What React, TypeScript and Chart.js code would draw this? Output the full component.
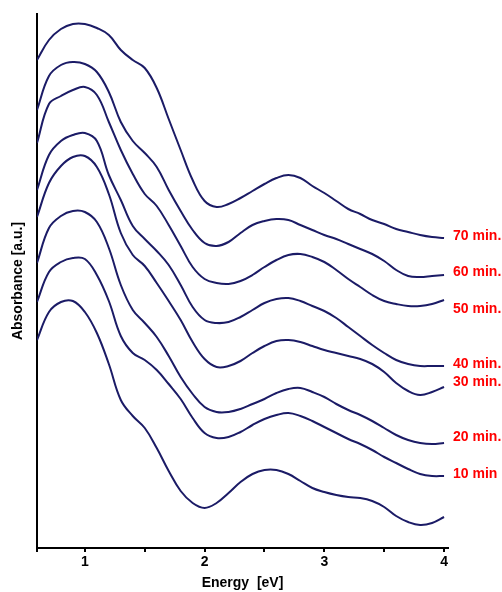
import React, { useEffect, useRef } from 'react';
import { Chart, registerables } from 'chart.js';

Chart.register(...registerables);

// Photon energy (eV)
const energy = [0.6, 0.7, 0.8, 0.9, 1.0, 1.1, 1.2, 1.3, 1.4, 1.5, 1.6, 1.7, 1.8, 1.9, 2.0, 2.1, 2.2, 2.3, 2.4, 2.5, 2.6, 2.7, 2.8, 2.9, 3.0, 3.1, 3.2, 3.3, 3.4, 3.5, 3.6, 3.7, 3.8, 3.9, 4.0];

// Absorbance (arbitrary units, curves offset vertically)
const abs70 = [4.88, 5.08, 5.19, 5.24, 5.24, 5.20, 5.13, 4.98, 4.88, 4.80, 4.60, 4.29, 3.98, 3.68, 3.47, 3.41, 3.44, 3.50, 3.57, 3.64, 3.70, 3.73, 3.70, 3.62, 3.55, 3.47, 3.39, 3.34, 3.28, 3.24, 3.19, 3.16, 3.13, 3.11, 3.10];
const abs60 = [4.38, 4.72, 4.83, 4.86, 4.84, 4.76, 4.56, 4.26, 4.07, 3.95, 3.81, 3.58, 3.37, 3.18, 3.05, 3.02, 3.06, 3.15, 3.23, 3.27, 3.29, 3.28, 3.23, 3.18, 3.13, 3.09, 3.04, 2.99, 2.94, 2.87, 2.78, 2.72, 2.71, 2.72, 2.73];
const abs50 = [4.05, 4.44, 4.52, 4.58, 4.61, 4.53, 4.26, 3.98, 3.74, 3.54, 3.42, 3.23, 3.02, 2.81, 2.69, 2.65, 2.64, 2.67, 2.73, 2.81, 2.88, 2.93, 2.94, 2.91, 2.86, 2.78, 2.69, 2.61, 2.53, 2.47, 2.44, 2.42, 2.42, 2.44, 2.48];
const abs40 = [3.58, 3.93, 4.07, 4.13, 4.15, 4.07, 3.73, 3.48, 3.22, 3.09, 2.97, 2.83, 2.63, 2.41, 2.28, 2.25, 2.26, 2.31, 2.38, 2.45, 2.49, 2.50, 2.47, 2.42, 2.37, 2.30, 2.21, 2.12, 2.03, 1.95, 1.88, 1.84, 1.82, 1.82, 1.82];
const abs30 = [3.31, 3.65, 3.82, 3.91, 3.92, 3.81, 3.54, 3.15, 2.93, 2.82, 2.65, 2.47, 2.28, 2.06, 1.89, 1.81, 1.82, 1.87, 1.95, 2.02, 2.07, 2.08, 2.06, 2.02, 1.98, 1.95, 1.92, 1.89, 1.84, 1.76, 1.65, 1.57, 1.53, 1.56, 1.61];
const abs20 = [2.85, 3.20, 3.32, 3.37, 3.36, 3.26, 3.00, 2.63, 2.38, 2.25, 2.11, 1.92, 1.71, 1.54, 1.41, 1.36, 1.36, 1.39, 1.44, 1.49, 1.55, 1.59, 1.60, 1.56, 1.51, 1.44, 1.38, 1.33, 1.27, 1.20, 1.13, 1.08, 1.05, 1.04, 1.05];
const abs10 = [2.46, 2.76, 2.86, 2.90, 2.89, 2.73, 2.47, 2.12, 1.95, 1.88, 1.78, 1.64, 1.49, 1.30, 1.15, 1.10, 1.11, 1.16, 1.23, 1.29, 1.33, 1.35, 1.32, 1.27, 1.21, 1.15, 1.09, 1.04, 0.98, 0.91, 0.85, 0.79, 0.74, 0.72, 0.72];
const abs0 = [2.08, 2.36, 2.46, 2.47, 2.36, 2.15, 1.84, 1.48, 1.32, 1.20, 1.00, 0.77, 0.57, 0.45, 0.40, 0.45, 0.55, 0.66, 0.74, 0.78, 0.78, 0.74, 0.67, 0.60, 0.56, 0.53, 0.51, 0.50, 0.47, 0.41, 0.32, 0.26, 0.23, 0.25, 0.31];

const seriesList = [abs70, abs60, abs50, abs40, abs30, abs20, abs10, abs0];
const seriesNames = ['70 min.', '60 min.', '50 min.', '40 min.', '30 min.', '20 min.', '10 min', '0 min'];

// Red curve labels and the absorbance level they sit at
const labelTexts = ['70 min.', '60 min.', '50 min.', '40 min.', '30 min.', '20 min.', '10 min'];
const labelLevels = [3.12, 2.76, 2.39, 1.84, 1.66, 1.11, 0.74];

const xTicks = [0.6, 1, 1.5, 2, 2.5, 3, 3.5, 4];

const FONT = '"Liberation Sans", Arial, Helvetica, sans-serif';

const curveLabels = {
  id: 'curveLabels',
  afterDatasetsDraw(chart: any) {
    const { ctx, scales } = chart;
    const x = scales.x;
    const y = scales.y;
    ctx.save();
    ctx.fillStyle = '#ff0000';
    ctx.font = 'bold 14px ' + FONT;
    ctx.textAlign = 'left';
    ctx.textBaseline = 'middle';
    const px = x.getPixelForValue(4) + 9;
    labelTexts.forEach((t, i) => {
      ctx.fillText(t, px, y.getPixelForValue(labelLevels[i]));
    });
    ctx.restore();
  },
};

export default function App() {
  const canvasRef = useRef<HTMLCanvasElement | null>(null);

  useEffect(() => {
    if (!canvasRef.current) return;
    Chart.defaults.font.family = FONT;
    const chart = new Chart(canvasRef.current, {
      type: 'line',
      data: {
        datasets: seriesList.map((s, i) => ({
          label: seriesNames[i],
          data: energy.map((e, j) => ({ x: e, y: s[j] })),
          borderColor: '#1b1b66',
          borderWidth: 2,
          pointRadius: 0,
          fill: false,
          tension: 0.4,
        })),
      },
      options: {
        responsive: false,
        animation: false,
        devicePixelRatio: 1,
        layout: { padding: { left: 9.6, top: 14, right: 54, bottom: 0 } },
        plugins: {
          legend: { display: false },
          tooltip: { enabled: false },
        },
        scales: {
          x: {
            type: 'linear',
            min: 0.6,
            max: 4.033,
            afterBuildTicks: (scale: any) => {
              scale.ticks = xTicks.map((v) => ({ value: v }));
            },
            ticks: {
              autoSkip: false,
              maxRotation: 0,
              padding: 2,
              color: '#000',
              font: { size: 14, weight: 'bold' },
              callback: (v: any) => (Number.isInteger(Number(v)) ? String(v) : ''),
            },
            grid: {
              display: true,
              drawOnChartArea: false,
              drawTicks: true,
              tickLength: 4,
              color: '#000',
              lineWidth: 2,
            },
            border: { display: true, color: '#000', width: 2 },
            title: {
              display: true,
              text: 'Energy  [eV]',
              color: '#000',
              font: { size: 14, weight: 'bold' },
              padding: { top: 1.8, bottom: 0.6 },
            },
          },
          y: {
            type: 'linear',
            min: 0,
            max: 5.34,
            ticks: { display: false },
            grid: { display: false, drawTicks: false },
            border: { display: true, color: '#000', width: 2 },
            title: {
              display: true,
              text: 'Absorbance [a.u.]',
              color: '#000',
              font: { size: 14, weight: 'bold' },
              padding: { top: 0, bottom: 10.6 },
            },
          },
        },
      },
      plugins: [curveLabels],
    } as any);
    return () => chart.destroy();
  }, []);

  return (
    <div style={{ position: 'absolute', left: 0, top: 0, width: 502, height: 592, background: '#fff' }}>
      <canvas ref={canvasRef} width={502} height={592} />
    </div>
  );
}
